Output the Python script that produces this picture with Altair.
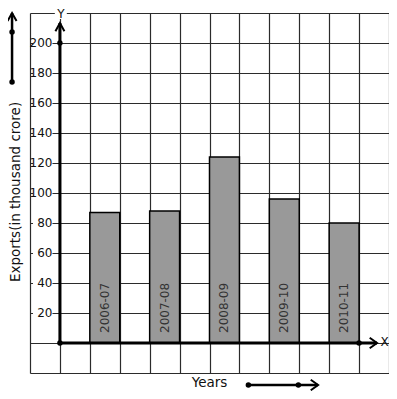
import altair as alt
import pandas as pd

# ---- data ----
years = ["2006-07", "2007-08", "2008-09", "2009-10", "2010-11"]
exports = [87, 88, 124, 96, 80]
y_ticks = [20, 40, 60, 80, 100, 120, 140, 160, 180, 200]
x_title = "Years"
y_title = "Exports(in thousand crore)"

bars = pd.DataFrame({
    "year": years,
    "value": exports,
    "x0": [2 * i + 1 for i in range(len(years))],
    "x1": [2 * i + 2 for i in range(len(years))],
})
bars["xc"] = bars["x0"] + 0.5
ticks = pd.DataFrame({"v": y_ticks})

FONT = "DejaVu Sans"
GRID = "#2b2b2b"
xs = alt.Scale(domain=[-1, 11], nice=False, zero=False)
ys = alt.Scale(domain=[-20, 220], nice=False, zero=False)
xaxis = alt.Axis(values=list(range(-1, 12)), tickCount=30, grid=True, labels=False, ticks=False,
                 domain=False, title=None, gridColor=GRID, gridWidth=1.2, gridOpacity=1)
yaxis = alt.Axis(values=list(range(-20, 221, 20)), tickCount=30, grid=True, labels=False, ticks=False,
                 domain=False, title=None, gridColor=GRID, gridWidth=1.2, gridOpacity=1)

# bars
bar_layer = alt.Chart(bars).mark_rect(fill="#999999", stroke="black", strokeWidth=1.5).encode(
    x=alt.X("x0:Q", scale=xs, axis=xaxis),
    x2="x1:Q",
    y=alt.Y("value:Q", scale=ys, axis=yaxis),
    y2=alt.datum(0),
)

bar_text = alt.Chart(bars).mark_text(angle=270, align="left", baseline="middle", yOffset=-10,
                                     font=FONT, fontSize=12, color="#333333").encode(
    x=alt.X("xc:Q", scale=xs),
    y=alt.datum(0),
    text="year:N",
)

# y tick labels with white background
tick_bg = alt.Chart(ticks).mark_rect(fill="white").transform_calculate(
    lo="datum.v - 4", hi="datum.v + 4", xa="-0.9", xb="-0.25"
).encode(
    x=alt.X("xa:Q", scale=xs), x2="xb:Q",
    y=alt.Y("lo:Q", scale=ys), y2="hi:Q",
)
tick_text = alt.Chart(ticks).mark_text(align="right", baseline="middle",
                                       font=FONT, fontSize=12, color="#111111").transform_calculate(
    xl="-0.25"
).encode(
    x=alt.X("xl:Q", scale=xs),
    y=alt.Y("v:Q", scale=ys),
    text="v:Q",
)

# decoration lines
segs = pd.DataFrame({
    "x": [0, 0, -1.6, 6.3],
    "x2": [0, 10.6, -1.6, 8.63],
    "y": [0, 0, 174, -28],
    "y2": [213.3, 0, 220, -28],
    "w": [3, 3, 2.5, 2.5],
})
seg_layer = alt.Chart(segs).mark_rule(color="black").encode(
    x=alt.X("x:Q", scale=xs), x2="x2:Q",
    y=alt.Y("y:Q", scale=ys), y2="y2:Q",
    strokeWidth=alt.StrokeWidth("w:Q", scale=None),
)

dots = pd.DataFrame({
    "x": [0, 0, 10, -1.6, -1.6, 6.3, 7.97],
    "y": [0, 200, 0, 207.3, 174, -28, -28],
})
dot_layer = alt.Chart(dots).mark_point(filled=True, color="black", size=30, opacity=1).encode(
    x=alt.X("x:Q", scale=xs), y=alt.Y("y:Q", scale=ys),
)

ups = pd.DataFrame({"x": [0, -1.6], "y": [213.3, 220]})
up_layer = alt.Chart(ups).mark_point(shape="M-1,1.8L0,0L1,1.8", size=81, filled=False,
                                     color="black", strokeWidth=2, opacity=1).encode(
    x=alt.X("x:Q", scale=xs), y=alt.Y("y:Q", scale=ys),
)
rights = pd.DataFrame({"x": [10.6, 8.63], "y": [0, -28]})
right_layer = alt.Chart(rights).mark_point(shape="M-1.4,-1L0,0L-1.4,1", size=110, filled=False,
                                           color="black", strokeWidth=2, opacity=1).encode(
    x=alt.X("x:Q", scale=xs), y=alt.Y("y:Q", scale=ys),
)

# texts
ylab_bg = alt.Chart(pd.DataFrame({"x": [-0.17], "x2": [0.23], "y": [216], "y2": [224]})).mark_rect(
    fill="white").encode(x=alt.X("x:Q", scale=xs), x2="x2:Q", y=alt.Y("y:Q", scale=ys), y2="y2:Q")
ylab = alt.Chart(pd.DataFrame({"t": ["Y"], "x": [0.03], "y": [222.6]})).mark_text(
    align="center", baseline="top", font=FONT, fontSize=12, color="#111111").encode(
    x=alt.X("x:Q", scale=xs), y=alt.Y("y:Q", scale=ys), text="t:N",
)
xlab = alt.Chart(pd.DataFrame({"t": ["X"], "x": [10.85], "y": [0.7]})).mark_text(
    align="center", baseline="middle", font=FONT, fontSize=12, color="#111111").encode(
    x=alt.X("x:Q", scale=xs), y=alt.Y("y:Q", scale=ys), text="t:N",
)
xtitle = alt.Chart(pd.DataFrame({"t": [x_title], "x": [5.0], "y": [-26.7]})).mark_text(
    align="center", baseline="middle", font=FONT, fontSize=13.5, color="#111111").encode(
    x=alt.X("x:Q", scale=xs), y=alt.Y("y:Q", scale=ys), text="t:N",
)
ytitle = alt.Chart(pd.DataFrame({"t": [y_title], "x": [-1.47], "y": [100.7]})).mark_text(
    angle=270, align="center", baseline="middle", font=FONT, fontSize=13.5, color="#111111").encode(
    x=alt.X("x:Q", scale=xs), y=alt.Y("y:Q", scale=ys), text="t:N",
)

chart = alt.layer(
    bar_layer, bar_text, tick_bg, tick_text, seg_layer, dot_layer, up_layer, right_layer,
    ylab_bg, ylab, xlab, xtitle, ytitle,
).properties(
    width=359, height=360,
    autosize=alt.AutoSizeParams(type="none"),
    padding={"left": 22, "top": 5, "right": 0, "bottom": 18},
    background="white",
).configure_view(strokeWidth=0)

chart.save("out.html", embed_options={"renderer": "svg", "actions": False})
